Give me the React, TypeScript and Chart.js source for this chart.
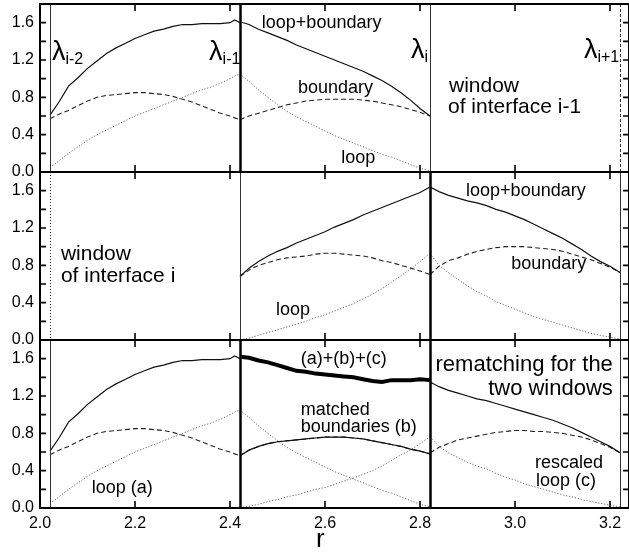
import { useEffect, useRef } from 'react';
import { Chart, registerables } from 'chart.js';

Chart.register(...registerables);

const FONT = '"Liberation Sans", Arial, Helvetica, sans-serif';

// ---- grids of r values ----
const R_LEFT = [2.021, 2.04, 2.06, 2.08, 2.10, 2.12, 2.14, 2.16, 2.18, 2.20, 2.22, 2.24, 2.26, 2.28, 2.30, 2.32, 2.34, 2.36, 2.38, 2.40, 2.41, 2.421];
const R_MID = [2.421, 2.44, 2.46, 2.48, 2.50, 2.52, 2.54, 2.56, 2.58, 2.60, 2.62, 2.64, 2.66, 2.68, 2.70, 2.72, 2.74, 2.76, 2.78, 2.80, 2.821];
const R_RIGHT = [2.821, 2.84, 2.86, 2.88, 2.90, 2.92, 2.94, 2.96, 2.98, 3.00, 3.02, 3.04, 3.06, 3.08, 3.10, 3.12, 3.14, 3.16, 3.18, 3.20, 3.222];

// ---- window of interface i-1 (top panel) ----
const W1_SUM_LEFT = [0.61, 0.75, 0.92, 1.01, 1.11, 1.19, 1.27, 1.33, 1.38, 1.43, 1.47, 1.51, 1.53, 1.56, 1.58, 1.58, 1.59, 1.59, 1.59, 1.60, 1.63, 1.60];
const W1_BND_LEFT = [0.57, 0.62, 0.66, 0.71, 0.76, 0.80, 0.82, 0.83, 0.84, 0.85, 0.85, 0.84, 0.83, 0.81, 0.78, 0.75, 0.71, 0.67, 0.63, 0.60, 0.58, 0.56];
const W1_LOOP_LEFT = [0.05, 0.12, 0.20, 0.27, 0.34, 0.40, 0.45, 0.50, 0.55, 0.60, 0.64, 0.68, 0.72, 0.76, 0.80, 0.84, 0.88, 0.91, 0.95, 1.00, 1.03, 1.05];
const W1_SUM_MID = [1.61, 1.58, 1.53, 1.49, 1.45, 1.41, 1.36, 1.32, 1.28, 1.24, 1.20, 1.16, 1.12, 1.08, 1.03, 0.98, 0.92, 0.85, 0.77, 0.68, 0.60];
const W1_BND_MID = [0.56, 0.60, 0.63, 0.66, 0.69, 0.72, 0.74, 0.76, 0.77, 0.78, 0.78, 0.78, 0.78, 0.77, 0.76, 0.74, 0.72, 0.70, 0.67, 0.64, 0.60];
const W1_LOOP_MID = [1.05, 0.97, 0.88, 0.80, 0.72, 0.65, 0.59, 0.54, 0.49, 0.44, 0.39, 0.35, 0.31, 0.27, 0.23, 0.19, 0.16, 0.12, 0.08, 0.04, 0.01];

// ---- window of interface i (middle panel) ----
const W2_SUM_MID = [0.68, 0.77, 0.84, 0.90, 0.95, 0.99, 1.04, 1.08, 1.12, 1.16, 1.21, 1.25, 1.29, 1.34, 1.38, 1.42, 1.46, 1.50, 1.54, 1.58, 1.64];
const W2_BND_MID = [0.68, 0.75, 0.80, 0.83, 0.86, 0.88, 0.89, 0.90, 0.92, 0.93, 0.93, 0.92, 0.91, 0.90, 0.88, 0.85, 0.83, 0.80, 0.77, 0.74, 0.70];
const W2_LOOP_MID = [0.00, 0.02, 0.05, 0.08, 0.11, 0.14, 0.17, 0.20, 0.24, 0.27, 0.31, 0.35, 0.39, 0.44, 0.49, 0.55, 0.62, 0.69, 0.76, 0.84, 0.93];
const W2_SUM_RIGHT = [1.64, 1.59, 1.55, 1.52, 1.49, 1.47, 1.44, 1.40, 1.37, 1.33, 1.29, 1.24, 1.19, 1.14, 1.09, 1.03, 0.97, 0.90, 0.84, 0.79, 0.72];
const W2_BND_RIGHT = [0.70, 0.79, 0.85, 0.88, 0.92, 0.95, 0.97, 0.99, 1.00, 1.00, 1.00, 0.99, 0.98, 0.97, 0.95, 0.92, 0.89, 0.86, 0.82, 0.78, 0.72];
const W2_LOOP_RIGHT = [0.93, 0.80, 0.72, 0.65, 0.58, 0.52, 0.47, 0.41, 0.37, 0.33, 0.29, 0.25, 0.22, 0.19, 0.16, 0.13, 0.10, 0.07, 0.05, 0.03, 0.01];

// ---- rematching (bottom panel) ----
const REM_TOTAL_MID = [1.62, 1.61, 1.58, 1.56, 1.53, 1.50, 1.47, 1.46, 1.44, 1.43, 1.42, 1.41, 1.40, 1.38, 1.36, 1.35, 1.37, 1.37, 1.37, 1.38, 1.37];
const REM_BND_MID = [0.56, 0.62, 0.66, 0.69, 0.71, 0.72, 0.73, 0.74, 0.75, 0.76, 0.76, 0.76, 0.75, 0.74, 0.72, 0.70, 0.68, 0.66, 0.63, 0.61, 0.58];
const REM_LOOP_C_MID = [0.00, 0.02, 0.04, 0.07, 0.09, 0.12, 0.14, 0.17, 0.20, 0.22, 0.25, 0.29, 0.32, 0.36, 0.40, 0.45, 0.51, 0.57, 0.62, 0.69, 0.76];
const REM_SUM_RIGHT = [1.35, 1.30, 1.26, 1.23, 1.20, 1.17, 1.15, 1.12, 1.09, 1.06, 1.03, 1.00, 0.97, 0.94, 0.90, 0.86, 0.81, 0.76, 0.71, 0.66, 0.59];
const REM_BND_RIGHT = [0.59, 0.65, 0.69, 0.73, 0.75, 0.77, 0.79, 0.81, 0.82, 0.83, 0.83, 0.82, 0.82, 0.81, 0.80, 0.78, 0.76, 0.73, 0.69, 0.65, 0.59];
const REM_LOOP_RIGHT = [0.76, 0.66, 0.59, 0.54, 0.49, 0.45, 0.42, 0.37, 0.33, 0.30, 0.26, 0.23, 0.20, 0.17, 0.14, 0.12, 0.09, 0.07, 0.05, 0.03, 0.01];

// ---- interfaces and ticks ----
const LAMBDA_R = [2.021, 2.421, 2.821, 3.222];
const X_TICKS = [2.0, 2.2, 2.4, 2.6, 2.8, 3.0, 3.2];
const Y_LABEL_TICKS = [0, 0.4, 0.8, 1.2, 1.6];
const Y_MINOR_TICKS = [0.2, 0.4, 0.6, 0.8, 1.0, 1.2, 1.4, 1.6];
const X_MIN = 2.0;
const X_MAX = 3.24;
const Y_MAX = 1.8;

// line style of each interface line in each panel (top, middle, bottom)
const LAMBDA_STYLE = [
  ['thin', 'thick', 'thin', 'dashed'],
  ['dotted', 'thin', 'thick', 'thin'],
  ['thin', 'thick', 'thick', 'thin'],
];

// text annotations: panel index, r, value (baseline), text
const LABELS = [
  { p: 0, r: 2.025, v: 1.20, t: 'λ', sub: 'i-2' },
  { p: 0, r: 2.356, v: 1.20, t: 'λ', sub: 'i-1' },
  { p: 0, r: 2.781, v: 1.22, t: 'λ', sub: 'i' },
  { p: 0, r: 3.145, v: 1.22, t: 'λ', sub: 'i+1' },
  { p: 0, r: 2.467, v: 1.543, t: 'loop+boundary', s: 18 },
  { p: 0, r: 2.543, v: 0.846, t: 'boundary', s: 18 },
  { p: 0, r: 2.634, v: 0.096, t: 'loop', s: 18 },
  { p: 0, r: 2.861, v: 0.857, t: 'window', s: 21 },
  { p: 0, r: 2.859, v: 0.632, t: 'of interface i-1', s: 21 },
  { p: 1, r: 2.044, v: 0.857, t: 'window', s: 21 },
  { p: 1, r: 2.044, v: 0.621, t: 'of interface i', s: 21 },
  { p: 1, r: 2.497, v: 0.268, t: 'loop', s: 18 },
  { p: 1, r: 2.897, v: 1.543, t: 'loop+boundary', s: 18 },
  { p: 1, r: 2.992, v: 0.761, t: 'boundary', s: 18 },
  { p: 2, r: 2.109, v: 0.161, t: 'loop (a)', s: 18 },
  { p: 2, r: 2.549, v: 1.543, t: '(a)+(b)+(c)', s: 18 },
  { p: 2, r: 2.549, v: 0.996, t: 'matched', s: 18 },
  { p: 2, r: 2.549, v: 0.814, t: 'boundaries (b)', s: 18 },
  { p: 2, r: 3.206, v: 1.468, t: 'rematching for the', s: 22, align: 'right' },
  { p: 2, r: 3.206, v: 1.211, t: 'two windows', s: 22, align: 'right' },
  { p: 2, r: 3.042, v: 0.429, t: 'rescaled', s: 18 },
  { p: 2, r: 3.044, v: 0.236, t: 'loop (c)', s: 18 },
];

const pts = (rs: number[], vs: number[]) => rs.map((r, i) => ({ x: r, y: vs[i] }));

const SOLID = { borderColor: '#111', borderWidth: 1.2 };
const DASH = { borderColor: '#222', borderWidth: 1.1, borderDash: [5, 3] };
const DOT = { borderColor: '#666', borderWidth: 1, borderDash: [1.2, 1.8] };
const THICK = { borderColor: '#000', borderWidth: 4 };

function ds(rs: number[], vs: number[], style: any, axis: string) {
  return {
    data: pts(rs, vs),
    yAxisID: axis,
    pointRadius: 0,
    fill: false,
    tension: 0,
    ...style,
  };
}

const overlay = {
  id: 'overlay',
  afterDatasetsDraw(chart: any) {
    const ctx = chart.ctx as CanvasRenderingContext2D;
    const xs = chart.scales.x;
    const panels = [chart.scales.yTop, chart.scales.yMid, chart.scales.yBot];
    const { left, right } = chart.chartArea;
    ctx.save();
    panels.forEach((ys: any, pi: number) => {
      const top = ys.top;
      const bottom = ys.bottom;
      LAMBDA_R.forEach((r, li) => {
        const st = LAMBDA_STYLE[pi][li];
        const x = Math.round(xs.getPixelForValue(r)) + 0.5;
        ctx.beginPath();
        ctx.setLineDash(st === 'dashed' ? [3, 2] : st === 'dotted' ? [1, 2] : []);
        ctx.lineWidth = st === 'thick' ? 2.5 : 1;
        ctx.strokeStyle = st === 'thick' ? '#000' : '#333';
        ctx.moveTo(x, top);
        ctx.lineTo(x, bottom);
        ctx.stroke();
      });
      ctx.setLineDash([]);
      ctx.strokeStyle = '#000';
      ctx.lineWidth = 1.6;
      ctx.beginPath();
      X_TICKS.forEach((v) => {
        const x = xs.getPixelForValue(v);
        ctx.moveTo(x, top);
        ctx.lineTo(x, top + 7);
        ctx.moveTo(x, bottom);
        ctx.lineTo(x, bottom - 7);
      });
      Y_MINOR_TICKS.forEach((v) => {
        const y = ys.getPixelForValue(v);
        ctx.moveTo(left, y);
        ctx.lineTo(left + 6, y);
        ctx.moveTo(right, y);
        ctx.lineTo(right - 6, y);
      });
      ctx.stroke();
      ctx.lineWidth = 2;
      ctx.strokeRect(left, top, right - left, bottom - top);
    });

    ctx.fillStyle = '#000';
    ctx.textBaseline = 'alphabetic';
    LABELS.forEach((l: any) => {
      const x = xs.getPixelForValue(l.r);
      const y = panels[l.p].getPixelForValue(l.v);
      if (l.sub) {
        ctx.textAlign = 'left';
        ctx.font = `27px ${FONT}`;
        ctx.fillText(l.t, x, y);
        const w = ctx.measureText(l.t).width;
        ctx.font = `16px ${FONT}`;
        ctx.fillText(l.sub, x + w, y + 4);
      } else {
        ctx.textAlign = l.align === 'right' ? 'right' : 'left';
        ctx.font = `${l.s}px ${FONT}`;
        ctx.fillText(l.t, x, y);
      }
    });
    // axis title
    ctx.textAlign = 'center';
    ctx.font = `26px ${FONT}`;
    ctx.fillText('r', xs.getPixelForValue(2.59), chart.height - 8);
    ctx.restore();
  },
};

function yScale(weight: number) {
  return {
    type: 'linear',
    position: 'left',
    stack: 'panels',
    stackWeight: 1,
    weight,
    min: 0,
    max: Y_MAX,
    grid: { display: false, drawTicks: false },
    border: { display: false },
    afterBuildTicks: (s: any) => {
      s.ticks = Y_LABEL_TICKS.map((v) => ({ value: v }));
    },
    afterFit: (s: any) => {
      s.width = 40;
      s.paddingTop = 0;
      s.paddingBottom = 0;
    },
    ticks: {
      autoSkip: false,
      padding: 6,
      color: '#000',
      font: { size: 16, family: FONT },
      callback: (v: any) => Number(v).toFixed(1),
    },
  };
}

export default function App() {
  const ref = useRef<HTMLCanvasElement>(null);
  useEffect(() => {
    document.body.style.margin = '0';
    const datasets = [
      ds(R_LEFT, W1_SUM_LEFT, SOLID, 'yTop'),
      ds(R_LEFT, W1_BND_LEFT, DASH, 'yTop'),
      ds(R_LEFT, W1_LOOP_LEFT, DOT, 'yTop'),
      ds(R_MID, W1_SUM_MID, SOLID, 'yTop'),
      ds(R_MID, W1_BND_MID, DASH, 'yTop'),
      ds(R_MID, W1_LOOP_MID, DOT, 'yTop'),

      ds(R_MID, W2_SUM_MID, SOLID, 'yMid'),
      ds(R_MID, W2_BND_MID, DASH, 'yMid'),
      ds(R_MID, W2_LOOP_MID, DOT, 'yMid'),
      ds(R_RIGHT, W2_SUM_RIGHT, SOLID, 'yMid'),
      ds(R_RIGHT, W2_BND_RIGHT, DASH, 'yMid'),
      ds(R_RIGHT, W2_LOOP_RIGHT, DOT, 'yMid'),

      ds(R_LEFT, W1_SUM_LEFT, SOLID, 'yBot'),
      ds(R_LEFT, W1_BND_LEFT, DASH, 'yBot'),
      ds(R_LEFT, W1_LOOP_LEFT, DOT, 'yBot'),
      ds(R_MID, REM_TOTAL_MID, THICK, 'yBot'),
      ds(R_MID, REM_BND_MID, SOLID, 'yBot'),
      ds(R_MID, REM_BND_MID, DASH, 'yBot'),
      ds(R_MID, W1_LOOP_MID, DOT, 'yBot'),
      ds(R_MID, REM_LOOP_C_MID, DOT, 'yBot'),
      ds(R_RIGHT, REM_SUM_RIGHT, SOLID, 'yBot'),
      ds(R_RIGHT, REM_BND_RIGHT, DASH, 'yBot'),
      ds(R_RIGHT, REM_LOOP_RIGHT, DOT, 'yBot'),
    ];
    const chart = new Chart(ref.current as HTMLCanvasElement, {
      type: 'line',
      data: { datasets } as any,
      plugins: [overlay],
      options: {
        responsive: false,
        animation: false,
        events: [],
        layout: { padding: { left: 0, top: 4, right: 0, bottom: 0 } },
        plugins: { legend: { display: false }, tooltip: { enabled: false } },
        scales: {
          x: {
            type: 'linear',
            position: 'bottom',
            min: X_MIN,
            max: X_MAX,
            grid: { display: false, drawTicks: false },
            border: { display: false },
            afterBuildTicks: (s: any) => {
              s.ticks = X_TICKS.map((v) => ({ value: v }));
            },
            afterFit: (s: any) => {
              s.height = 47;
              s.paddingLeft = 0;
              s.paddingRight = 0;
            },
            ticks: {
              autoSkip: false,
              maxRotation: 0,
              padding: 6,
              color: '#000',
              font: { size: 16, family: FONT },
              callback: (v: any) => Number(v).toFixed(1),
            },
          },
          yBot: yScale(1),
          yMid: yScale(2),
          yTop: yScale(3),
        } as any,
      },
    });
    return () => chart.destroy();
  }, []);
  return (
    <div style={{ position: 'absolute', left: 0, top: 0, width: 629, height: 555, overflow: 'hidden', background: '#fff' }}>
      <canvas ref={ref} width={629} height={555} style={{ width: 629, height: 555, display: 'block' }} />
    </div>
  );
}
